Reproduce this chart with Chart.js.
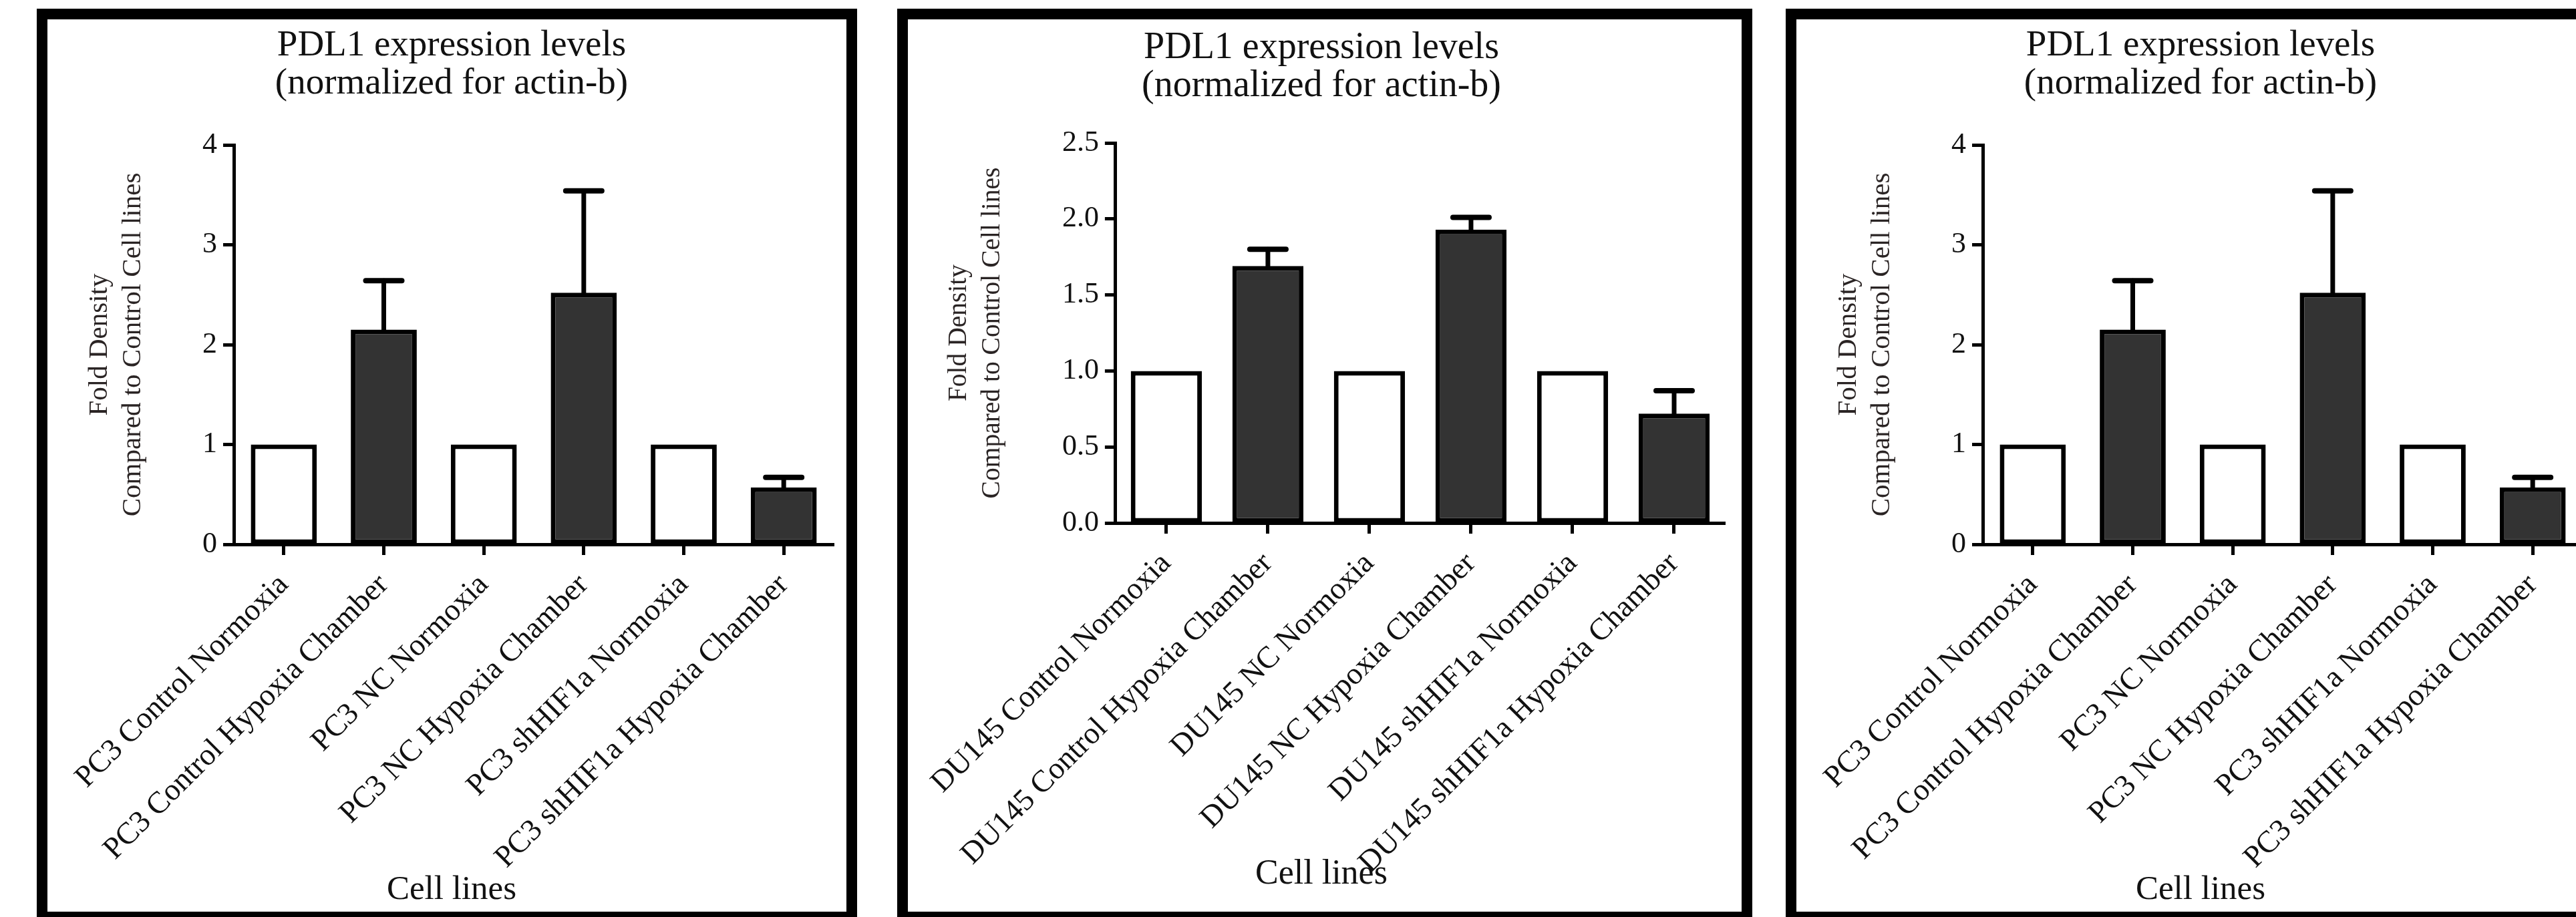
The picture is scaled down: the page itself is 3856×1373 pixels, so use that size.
<!DOCTYPE html>
<html>
<head>
<meta charset="utf-8">
<script src="https://cdn.jsdelivr.net/npm/chart.js@4"></script>
<style>
  html, body { margin: 0; padding: 0; background: #fff; }
  body { width: 3856px; height: 1373px; overflow: hidden; position: relative; }
  .panel { position: absolute; top: 13px; border: 16px solid #000; background: #fff; }
  .panel canvas { display: block; }
</style>
</head>
<body>
<div class="panel" style="left:55px;"><canvas id="pc3a" width="1196" height="1336"></canvas></div>
<div class="panel" style="left:1343px;"><canvas id="du145" width="1248" height="1336"></canvas></div>
<div class="panel" style="left:2673px;"><canvas id="pc3b" width="1196" height="1336"></canvas></div>
<script>
// Chart text
const titleLines = ['PDL1 expression levels', '(normalized for actin-b)'];
const yTitleLines = ['Fold Density', 'Compared to Control Cell lines'];
const xTitle = 'Cell lines';

// PC3 data
const pc3Labels = ['PC3 Control Normoxia', 'PC3 Control Hypoxia Chamber', 'PC3 NC Normoxia',
    'PC3 NC Hypoxia Chamber', 'PC3 shHIF1a Normoxia', 'PC3 shHIF1a Hypoxia Chamber'];
const pc3Values = [1, 2.15, 1, 2.52, 1, 0.57];
const pc3Errors = [0, 0.49, 0, 1.02, 0, 0.10];
const pc3Ticks = [0, 1, 2, 3, 4];

// DU145 data
const du145Labels = ['DU145 Control Normoxia', 'DU145 Control Hypoxia Chamber', 'DU145 NC Normoxia',
    'DU145 NC Hypoxia Chamber', 'DU145 shHIF1a Normoxia', 'DU145 shHIF1a Hypoxia Chamber'];
const du145Values = [1, 1.69, 1, 1.93, 1, 0.72];
const du145Errors = [0, 0.11, 0, 0.08, 0, 0.15];
const du145Ticks = ['0.0', '0.5', '1.0', '1.5', '2.0', '2.5'];

const serif = "'Liberation Serif', 'Times New Roman', serif";
const dark = '#333333';

// upper error bars, drawn with the y scale
const errorBars = {
    id: 'errorBars',
    afterDatasetsDraw(chart) {
        const ctx = chart.ctx;
        const yScale = chart.scales.y;
        const ds = chart.data.datasets[0];
        chart.getDatasetMeta(0).data.forEach((bar, i) => {
            const err = ds.errors[i];
            if (!err) return;
            const top = yScale.getPixelForValue(ds.data[i] + err);
            ctx.save();
            ctx.strokeStyle = '#000';
            ctx.lineCap = 'round';
            ctx.lineWidth = 7;
            ctx.beginPath();
            ctx.moveTo(bar.x, bar.y);
            ctx.lineTo(bar.x, top);
            ctx.stroke();
            ctx.lineWidth = 8;
            ctx.beginPath();
            ctx.moveTo(bar.x - 27, top);
            ctx.lineTo(bar.x + 27, top);
            ctx.stroke();
            ctx.restore();
        });
    }
};

function makePanel(id, labels, values, errors, ticks, g) {
    const canvas = document.getElementById(id);
    const yMax = +ticks[ticks.length - 1];
    const yStep = ticks[1] - ticks[0];
    // x scale box runs down to 10px above the canvas bottom so rotated labels are not clipped;
    // the "Cell lines" subtitle is pulled up into that box with a negative top padding
    const subBox = 10;
    const xHeight = canvas.height - g.chartBottom - subBox;
    const subTop = g.xTitleY - (g.chartBottom + xHeight) - g.xTitleSize / 2;
    const subBottom = subBox - g.xTitleSize - subTop;
    new Chart(canvas, {
        type: 'bar',
        data: {
            labels: labels,
            datasets: [{
                data: values,
                errors: errors,
                backgroundColor: values.map((v, i) => i % 2 ? dark : '#fff'),
                borderColor: '#000',
                borderWidth: 7,
                borderSkipped: false,
                barPercentage: g.barPct,
                categoryPercentage: 1
            }]
        },
        options: {
            responsive: false,
            animation: false,
            devicePixelRatio: 1,
            layout: { padding: { left: g.padL, right: g.padR, top: 0, bottom: 0 } },
            plugins: {
                legend: { display: false },
                tooltip: { enabled: false },
                title: {
                    display: true,
                    text: titleLines,
                    color: '#111',
                    font: { family: serif, size: g.titleSize, weight: 'normal', lineHeight: 57 / g.titleSize },
                    padding: { top: g.titleTop, bottom: g.titleBottom }
                },
                subtitle: {
                    display: true,
                    position: 'bottom',
                    text: xTitle,
                    color: '#111',
                    font: { family: serif, size: g.xTitleSize, weight: 'normal', lineHeight: 1 },
                    padding: { top: subTop, bottom: subBottom }
                }
            },
            scales: {
                x: {
                    offset: true,
                    grid: { display: true, drawOnChartArea: false, offset: false, tickLength: 16, tickWidth: 5, tickColor: '#000' },
                    border: { display: true, color: '#000', width: 5 },
                    ticks: {
                        autoSkip: false, minRotation: 45, maxRotation: 45, padding: 18,
                        color: '#111', font: { family: serif, size: 46 }
                    },
                    afterFit: (s) => { s.height = xHeight; }
                },
                y: {
                    min: 0,
                    max: yMax,
                    grid: { display: true, drawOnChartArea: false, tickLength: 16, tickWidth: 5, tickColor: '#000' },
                    border: { display: true, color: '#000', width: 5 },
                    ticks: {
                        stepSize: yStep, padding: 9, color: '#111',
                        font: { family: serif, size: 44 },
                        callback: (v) => g.decimals ? v.toFixed(g.decimals) : v
                    },
                    title: {
                        display: true,
                        text: yTitleLines,
                        color: '#2a2424',
                        font: { family: serif, size: g.yTitleSize, lineHeight: 50 / g.yTitleSize },
                        padding: { top: g.yTitleTop, bottom: 0 }
                    },
                    afterFit: (s) => { s.width = g.yWidth; }
                }
            }
        },
        plugins: [errorBars]
    });
}

const pc3Geom = {
    padL: 33, padR: 19, yWidth: 246, chartBottom: 786, xTitleY: 1304,
    titleSize: 55, titleTop: 11, titleBottom: 63,
    xTitleSize: 51,
    yTitleSize: 41, yTitleTop: 20, barPct: 0.66, decimals: 0
};
const du145Geom = {
    padL: 15, padR: 25, yWidth: 292, chartBottom: 754, xTitleY: 1280,
    titleSize: 56, titleTop: 15, titleBottom: 56,
    xTitleSize: 52,
    yTitleSize: 39.5, yTitleTop: 33, barPct: 0.70, decimals: 1
};

makePanel('pc3a', pc3Labels, pc3Values, pc3Errors, pc3Ticks, pc3Geom);
makePanel('du145', du145Labels, du145Values, du145Errors, du145Ticks, du145Geom);
makePanel('pc3b', pc3Labels, pc3Values, pc3Errors, pc3Ticks, pc3Geom);
</script>
</body>
</html>
